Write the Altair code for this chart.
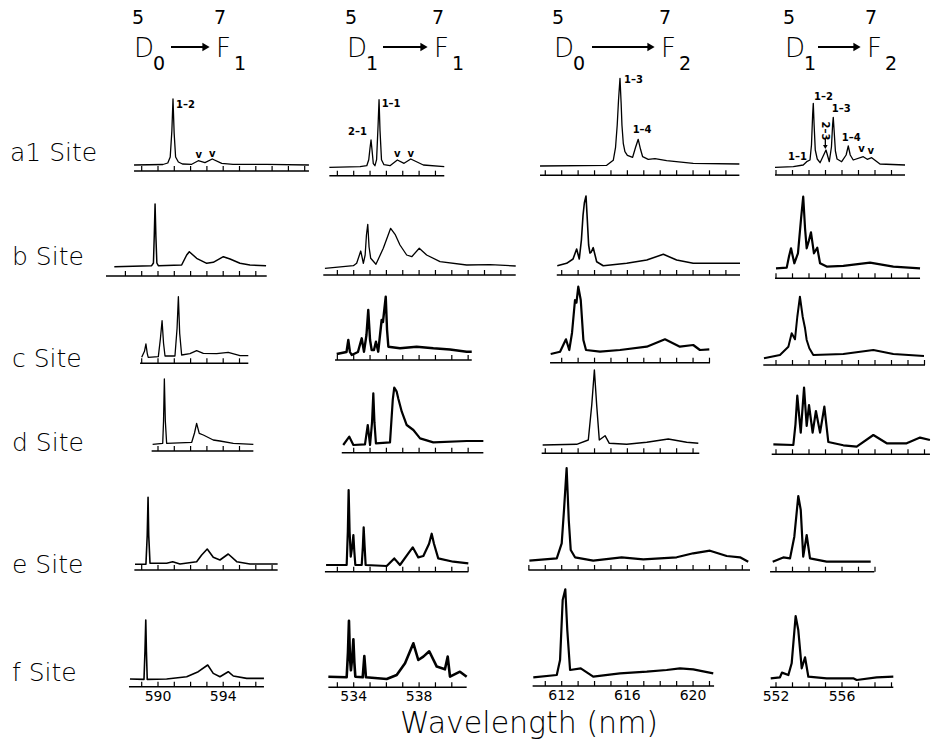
import altair as alt
import pandas as pd

# ---------------- data: wavelengths (nm) and intensities (a.u.) ----------------
ROW_LABELS = ["a1  Site", "b  Site", "c  Site", "d  Site", "e  Site", "f  Site"]

# a1 site
A1_1_WL = [588.53, 590.3, 590.6, 590.75, 590.85, 590.92, 590.99, 591.08, 591.25, 591.5, 592.07, 592.47, 592.88, 593.33, 593.91, 594.6, 596.67, 599.26]
A1_1_I = [6, 6.5, 8, 14, 40, 72, 38, 14, 9, 7, 6.7, 10.3, 8.3, 12, 7.7, 6.7, 6.7, 6]
A1_2_WL = [532.51, 534.39, 534.8, 534.92, 535.0, 535.06, 535.12, 535.2, 535.3, 535.4, 535.49, 535.55, 535.61, 535.7, 535.85, 536.22, 536.67, 537.08, 537.49, 538.26, 539.54]
A1_2_I = [8.3, 9, 10, 16, 28, 35.7, 26, 12, 10, 16, 50, 76, 45, 16, 11, 10, 15.7, 12.4, 16.7, 10.7, 9]
A1_3_WL = [610.68, 614.74, 615.14, 615.28, 615.38, 615.46, 615.55, 615.62, 615.67, 615.75, 615.85, 616.0, 616.32, 616.5, 616.66, 616.8, 616.93, 617.27, 617.68, 618.39, 620.01, 622.82]
A1_3_I = [9.3, 10, 15, 28, 50, 75, 97, 72, 50, 32, 23.6, 20, 18, 28, 36, 26, 18.6, 16, 16.7, 14.7, 12, 11.3]
A1_4_WL = [551.94, 553.05, 553.65, 553.86, 554.06, 554.15, 554.22, 554.26, 554.31, 554.38, 554.5, 554.67, 555.03, 555.23, 555.36, 555.43, 555.47, 555.52, 555.6, 555.7, 555.98, 556.25, 556.38, 556.5, 556.68, 557.29, 557.53, 557.8, 558.3, 559.82]
A1_4_I = [7.7, 8.3, 10, 13.3, 15, 30, 60, 71.7, 50, 25, 16, 12.3, 25, 13.3, 28, 50, 57.7, 45, 24, 16, 13.3, 20, 29, 20, 15, 18.3, 15.7, 17.3, 11, 10]

# b site
B_1_WL = [587.32, 589.61, 589.72, 589.77, 589.82, 589.87, 589.93, 590.02, 591.45, 591.76, 591.92, 592.37, 592.99, 593.39, 594.01, 594.42, 595.03, 595.64, 596.63]
B_1_I = [9.3, 10.3, 13, 40, 72, 40, 13, 10.3, 11, 21, 24.3, 17.7, 12.7, 13.7, 19.3, 17, 12.7, 11, 10.3]
B_2_WL = [532.24, 533.98, 534.18, 534.35, 534.43, 534.51, 534.59, 534.7, 534.78, 534.86, 534.94, 535.04, 535.36, 535.81, 536.26, 536.53, 536.83, 537.24, 537.55, 538.01, 538.46, 539.28, 540.91, 542.34, 543.91]
B_2_I = [6.7, 9.3, 11.7, 20, 24, 18, 11.7, 20, 40, 50.7, 28, 16.7, 10.7, 26.7, 46.7, 40.7, 30, 20, 18.3, 26.7, 20, 13.3, 10, 10.3, 9]
B_3_WL = [611.73, 612.3, 612.69, 612.91, 613.07, 613.2, 613.3, 613.38, 613.48, 613.56, 613.64, 613.72, 613.8, 613.92, 614.13, 614.53, 615.96, 617.18, 618.19, 619.0, 620.01, 622.86]
B_3_I = [9.3, 11.7, 16, 26, 16, 35, 60, 72, 79, 55, 30, 22, 23, 27.3, 13.3, 9.3, 11.7, 15, 20.7, 15, 11.7, 11.7]
B_4_WL = [552.0, 552.65, 552.79, 552.91, 553.11, 553.33, 553.52, 553.65, 553.76, 553.86, 554.0, 554.12, 554.3, 554.5, 554.67, 555.07, 556.08, 557.7, 559.11, 560.73]
B_4_I = [10, 10.7, 22, 30, 15, 25, 60, 81.6, 50, 30, 38, 46, 25, 30.6, 15, 11.7, 12.4, 15.7, 11.7, 10]

# c site
C_1_WL = [589.0, 589.17, 589.26, 589.34, 589.4, 590.02, 590.15, 590.25, 590.34, 590.43, 591.04, 591.17, 591.25, 591.33, 591.45, 591.96, 592.37, 592.78, 593.6, 594.31, 595.03, 595.54]
C_1_I = [6, 12, 19.3, 10, 6, 6.7, 25, 42.6, 20, 7.3, 7.3, 35, 66.6, 30, 8.3, 9.7, 12.6, 10, 9.7, 11, 7.7, 7.7]
C_2_WL = [532.96, 533.56, 533.67, 533.77, 533.88, 534.26, 534.49, 534.63, 534.78, 534.89, 535.0, 535.1, 535.24, 535.36, 535.5, 535.61, 535.71, 535.79, 535.96, 536.04, 536.12, 536.83, 537.85, 538.87, 539.89, 540.91, 541.22]
C_2_I = [6, 8, 20, 8, 5, 8, 21.7, 8.3, 25, 50, 20, 10, 10, 18.3, 8.3, 25, 40, 38, 63.3, 30, 13.3, 11.7, 13.3, 11.7, 10.5, 8.3, 8.3]
C_3_WL = [611.33, 611.9, 612.26, 612.46, 612.63, 612.81, 612.9, 613.01, 613.16, 613.32, 613.48, 614.33, 615.55, 617.18, 618.29, 619.2, 620.01, 620.42, 620.99]
C_3_I = [8.7, 11, 23.4, 12.7, 30, 62.7, 60, 76, 62.7, 22.7, 12.7, 11, 12.7, 16, 23.4, 16, 17.7, 12.7, 13.3]
C_4_WL = [551.27, 552.24, 552.75, 552.95, 553.15, 553.29, 553.45, 553.62, 553.76, 553.86, 554.02, 554.26, 556.08, 557.9, 559.11, 560.97]
C_4_I = [6.7, 10, 18.3, 31.7, 25.7, 48, 68.3, 48, 36.7, 25, 16.7, 10, 11, 15, 11, 9]

# d site
D_1_WL = [589.67, 590.29, 590.34, 590.39, 590.45, 590.53, 592.07, 592.24, 592.37, 592.53, 592.78, 593.39, 593.8, 594.62, 595.85]
D_1_I = [6.7, 7.7, 30, 72, 30, 7.7, 8.7, 18, 27.7, 17.7, 16, 11, 10, 7.7, 6.7]
D_2_WL = [533.36, 533.73, 533.98, 534.69, 534.86, 535.0, 535.12, 535.2, 535.27, 535.36, 536.22, 536.39, 536.48, 536.63, 536.73, 536.94, 537.24, 537.65, 538.06, 538.87, 540.91, 541.93]
D_2_I = [7.7, 16, 7.7, 8.3, 27.7, 7.7, 30, 59.4, 30, 9.3, 10.3, 53, 65, 61, 54, 41, 27.7, 22.7, 14.3, 10.3, 11.7, 11.7]
D_3_WL = [610.84, 612.91, 613.62, 613.83, 613.99, 614.13, 614.29, 614.64, 614.9, 615.96, 617.18, 618.49, 619.61, 620.32]
D_3_I = [8.3, 9, 13.3, 48.3, 83.3, 48.3, 13.3, 17.6, 10, 9, 11, 14.3, 11, 10]
D_4_WL = [551.84, 553.05, 553.18, 553.29, 553.5, 553.7, 553.86, 554.0, 554.22, 554.42, 554.67, 554.93, 555.17, 556.08, 556.89, 557.9, 558.71, 559.92, 560.73, 561.33]
D_4_I = [10, 9.3, 30, 58.6, 21.7, 66.6, 28.3, 49.3, 21.7, 43.3, 21.7, 47.6, 12.3, 9, 7.6, 19.3, 11, 11, 16.7, 14.3]

# e site
E_1_WL = [588.59, 589.26, 589.34, 589.39, 589.43, 589.51, 590.53, 590.9, 591.35, 592.37, 592.68, 593.02, 593.39, 593.8, 594.31, 594.83, 595.64, 597.34]
E_1_I = [5.7, 5.7, 35, 72.7, 35, 6.7, 6.7, 8.3, 6, 8.3, 15, 21, 12.7, 10, 16, 8.3, 6, 6]
E_2_WL = [532.31, 533.57, 533.64, 533.69, 533.75, 533.82, 533.91, 533.98, 534.04, 534.1, 534.49, 534.56, 534.61, 534.67, 534.73, 536.02, 536.48, 536.83, 537.34, 537.61, 537.95, 538.26, 538.61, 538.77, 538.91, 539.17, 540.09, 541.01]
E_2_I = [6.7, 6.7, 40, 81.7, 40, 15, 25, 36.7, 20, 6.7, 6.7, 25, 44.4, 25, 6.7, 5.7, 13.3, 6.7, 18.3, 24.4, 14.3, 15.7, 28, 38, 28, 13.3, 10, 8.3]
E_3_WL = [610.03, 611.7, 612.0, 612.14, 612.3, 612.43, 612.55, 612.81, 613.92, 615.65, 616.97, 619.0, 620.01, 621.03, 622.05, 622.86, 623.36]
E_3_I = [9.3, 11.7, 26.7, 60, 102, 50, 20, 12.7, 9.3, 12.7, 10.7, 12.7, 16.7, 19.3, 14, 12.7, 8.3]
E_4_WL = [551.8, 552.44, 552.85, 553.11, 553.35, 553.5, 553.65, 553.86, 554.06, 555.07, 557.74]
E_4_I = [10, 14.3, 13.3, 35, 75.7, 61.7, 15, 36.7, 13.3, 10, 10]

# f site
F_1_WL = [588.28, 589.14, 589.2, 589.25, 589.29, 589.34, 590.53, 591.76, 592.47, 593.05, 593.39, 593.8, 594.31, 594.62, 595.44, 596.5]
F_1_I = [7.7, 7.3, 35, 66.7, 35, 7.3, 7.7, 10, 15, 21.7, 13.3, 10, 15, 10.7, 8.3, 8.3]
F_2_WL = [532.45, 533.57, 533.65, 533.71, 533.77, 533.83, 533.91, 533.98, 534.04, 534.1, 534.55, 534.65, 534.75, 536.02, 536.63, 537.14, 537.65, 537.95, 538.26, 538.62, 539.08, 539.58, 539.75, 539.89, 540.5, 540.91]
F_2_I = [10.6, 10, 35, 66.6, 30, 17, 30, 48, 25, 10.6, 10, 31.3, 10, 8.3, 12.3, 24, 44, 27.3, 30.7, 36, 20.7, 18, 30.7, 10.6, 15.6, 10.6]
F_3_WL = [610.27, 611.7, 611.9, 612.06, 612.22, 612.34, 612.51, 613.16, 613.92, 615.55, 617.18, 618.39, 619.2, 620.01, 621.23]
F_3_I = [8.7, 11, 26, 86, 96.7, 56, 16, 17.7, 9.3, 12.7, 14.3, 16, 17.7, 16.7, 12.7]
F_4_WL = [551.68, 552.24, 552.36, 552.75, 552.95, 553.19, 553.35, 553.56, 553.76, 553.96, 555.07, 556.68, 556.89, 558.1, 559.11]
F_4_I = [9, 10, 14.7, 12.3, 24, 71.3, 57.3, 19, 30, 10.6, 9, 9, 7.3, 10, 10.6]

# wavelength axis of each panel: [start, end] and tick range (first, last), rows a1..f, cols 1..4
AXIS_EXTENT = [
    [[588.53, 599.26], [532.51, 539.54], [610.68, 622.82], [551.94, 559.82]],
    [[586.81, 596.67], [532.14, 543.91], [611.70, 622.86], [551.94, 560.73]],
    [[588.90, 595.54], [532.86, 541.22], [611.29, 621.03], [551.23, 561.03]],
    [[589.61, 595.85], [533.27, 541.93], [610.78, 620.38], [551.74, 561.33]],
    [[588.55, 597.34], [532.24, 541.01], [609.97, 623.47], [551.64, 557.96]],
    [[588.22, 596.50], [532.45, 540.91], [610.23, 621.28], [551.64, 559.11]],
]
TICK_RANGE = [
    [[589, 599], [533, 539], [611, 622], [552, 559]],
    [[588, 596], [533, 543], [612, 622], [552, 560]],
    [[589, 595], [533, 541], [612, 621], [552, 561]],
    [[590, 595], [534, 541], [611, 620], [552, 561]],
    [[589, 597], [533, 541], [610, 623], [552, 558]],
    [[589, 596], [533, 540], [611, 621], [552, 559]],
]
TICK_LABELS = [[590, 594], [534, 538], [612, 616, 620], [552, 556]]

# a1-site assignments
A1_1_LBL = ["1\u20132"]; A1_1_LBL_WL = [591.1]; A1_1_LBL_I = [66]
A1_2_LBL = ["2\u20131", "1\u20131"]; A1_2_LBL_WL = [534.81, 535.71]; A1_2_LBL_I = [44, 72]
A1_3_LBL = ["1\u20133", "1\u20134"]; A1_3_LBL_WL = [615.79, 616.32]; A1_3_LBL_I = [95, 45]
A1_4_LBL = ["1\u20131", "1\u20132", "1\u20133", "1\u20134"]; A1_4_LBL_WL = [552.73, 554.3, 555.38, 555.98]; A1_4_LBL_I = [18, 78, 66, 37]
V_MARKS_WL = [[592.5, 593.33], [536.67, 537.49], [], [557.19, 557.74]]
V_MARKS_I = [[16, 17], [21.4, 21.4], [], [26, 24]]

SPECTRA = [
    [(A1_1_WL, A1_1_I), (A1_2_WL, A1_2_I), (A1_3_WL, A1_3_I), (A1_4_WL, A1_4_I)],
    [(B_1_WL, B_1_I), (B_2_WL, B_2_I), (B_3_WL, B_3_I), (B_4_WL, B_4_I)],
    [(C_1_WL, C_1_I), (C_2_WL, C_2_I), (C_3_WL, C_3_I), (C_4_WL, C_4_I)],
    [(D_1_WL, D_1_I), (D_2_WL, D_2_I), (D_3_WL, D_3_I), (D_4_WL, D_4_I)],
    [(E_1_WL, E_1_I), (E_2_WL, E_2_I), (E_3_WL, E_3_I), (E_4_WL, E_4_I)],
    [(F_1_WL, F_1_I), (F_2_WL, F_2_I), (F_3_WL, F_3_I), (F_4_WL, F_4_I)],
]

# ---------------- layout / style ----------------
W, H = 932, 743
FONT = "DejaVu Sans"
COL_REF_NM = [589, 534, 612, 552]
COL_REF_PX = [141.7, 353.7, 561.7, 776.0]
COL_PX_PER_NM = [16.3, 16.35, 16.42, 16.5]
BASE_Y = [
    [171, 175.7, 175.3, 175],
    [276, 275, 275, 278.3],
    [363.3, 360, 362.7, 365],
    [451, 452.7, 453.3, 454.3],
    [570, 571.7, 570, 571.7],
    [686.7, 687.3, 686, 687.3],
]
LINE_W = [
    [1.3, 1.3, 1.3, 1.3],
    [1.5, 1.3, 1.6, 2.2],
    [1.3, 2.4, 2.2, 2.0],
    [1.3, 2.2, 1.4, 2.2],
    [1.6, 2.2, 2.2, 2.2],
    [1.6, 2.6, 2.2, 2.2],
]
LABEL_Y = [160.7, 265, 367.3, 451, 573.3, 680.7]
TICK_LEN = 5


def xscale(c):
    s = COL_PX_PER_NM[c]
    n0 = COL_REF_NM[c]
    p0 = COL_REF_PX[c]
    return alt.Scale(domain=[n0 - 10, n0 + 15], range=[p0 - 10 * s, p0 + 15 * s], nice=False, zero=False)


def yscale(base):
    return alt.Scale(domain=[0, 100], range=[base, base - 100], nice=False, zero=False)


def panel(r, c):
    xs = xscale(c)
    ys = yscale(BASE_Y[r][c])
    wl, inten = SPECTRA[r][c]
    X = lambda f: alt.X(f, type="quantitative", scale=xs, axis=None)
    Y = lambda f: alt.Y(f, type="quantitative", scale=ys, axis=None)
    layers = []
    layers.append(
        alt.Chart(pd.DataFrame({"wl": wl, "I": inten}))
        .mark_line(color="black", strokeWidth=LINE_W[r][c], strokeJoin="round", interpolate="linear")
        .encode(x=X("wl"), y=Y("I"), order="wl:Q")
    )
    e0, e1 = AXIS_EXTENT[r][c]
    layers.append(
        alt.Chart(pd.DataFrame({"x0": [e0], "x1": [e1], "y0": [0]}))
        .mark_rule(color="black", strokeWidth=1.4)
        .encode(x=X("x0"), x2="x1:Q", y=Y("y0"))
    )
    t0, t1 = TICK_RANGE[r][c]
    ticks = list(range(t0, t1 + 1))
    layers.append(
        alt.Chart(pd.DataFrame({"t": ticks, "y0": [0] * len(ticks), "y1": [TICK_LEN] * len(ticks)}))
        .mark_rule(color="black", strokeWidth=1.2)
        .encode(x=X("t"), y=Y("y0"), y2="y1:Q")
    )
    if r == 5:
        tl = TICK_LABELS[c]
        layers.append(
            alt.Chart(pd.DataFrame({"t": tl, "y0": [0] * len(tl), "s": [str(v) for v in tl]}))
            .mark_text(font=FONT, fontSize=14, dy=14, baseline="alphabetic", align="center", color="black")
            .encode(x=X("t"), y=Y("y0"), text="s:N")
        )
    if r == 0:
        lbls = [(A1_1_LBL, A1_1_LBL_WL, A1_1_LBL_I), (A1_2_LBL, A1_2_LBL_WL, A1_2_LBL_I),
                (A1_3_LBL, A1_3_LBL_WL, A1_3_LBL_I), (A1_4_LBL, A1_4_LBL_WL, A1_4_LBL_I)][c]
        aligns = ["left"] * len(lbls[0])
        if c == 1:
            aligns = ["right", "left"]
        df = pd.DataFrame({"s": lbls[0], "wl": lbls[1], "I": lbls[2], "al": aligns})
        for al in sorted(set(aligns)):
            layers.append(
                alt.Chart(df[df.al == al])
                .mark_text(font=FONT, fontSize=10, fontWeight="bold", align=al, baseline="middle", color="black")
                .encode(x=X("wl"), y=Y("I"), text="s:N")
            )
        if V_MARKS_WL[c]:
            layers.append(
                alt.Chart(pd.DataFrame({"wl": V_MARKS_WL[c], "I": V_MARKS_I[c], "s": ["v"] * len(V_MARKS_WL[c])}))
                .mark_text(font=FONT, fontSize=10, fontWeight="bold", align="center", baseline="middle", color="black")
                .encode(x=X("wl"), y=Y("I"), text="s:N")
            )
        if c == 3:
            layers.append(
                alt.Chart(pd.DataFrame({"wl": [554.95], "I": [44], "s": ["2\u20133"]}))
                .mark_text(font=FONT, fontSize=10, fontWeight="bold", angle=90, align="center", baseline="middle", color="black")
                .encode(x=X("wl"), y=Y("I"), text="s:N")
            )
            layers.append(
                alt.Chart(pd.DataFrame({"wl": [554.99], "I": [36], "I2": [28]}))
                .mark_rule(color="black", strokeWidth=1.3)
                .encode(x=X("wl"), y=Y("I"), y2="I2:Q")
            )
            layers.append(
                alt.Chart(pd.DataFrame({"wl": [554.99], "I": [28]}))
                .mark_point(shape="triangle-down", filled=True, size=22, color="black", opacity=1)
                .encode(x=X("wl"), y=Y("I"))
            )
    return alt.layer(*layers)


def text_at(s, x, y, size, align="left", baseline="alphabetic", weight=200):
    return (
        alt.Chart(pd.DataFrame({"s": [s]}))
        .mark_text(font=FONT, fontSize=size, align=align, baseline=baseline, fontWeight=weight, color="black")
        .encode(text="s:N", x=alt.value(x), y=alt.value(y))
    )


decor = []
# row labels
for i, lab in enumerate(ROW_LABELS):
    decor.append(text_at(lab, 12 if i else 10, LABEL_Y[i], 25))
# x title
decor.append(text_at("Wavelength (nm)", 529, 733, 30, align="center"))

# column headers
HEADERS = [("5", "D", "0", "7", "F", "1"), ("5", "D", "1", "7", "F", "1"),
           ("5", "D", "0", "7", "F", "2"), ("5", "D", "1", "7", "F", "2")]
HDR_X = [132, 345, 552, 783]
HDR_ARROW = [(171, 210), (383, 428), (592, 655), (818, 861)]
for k, (s1, l1, b1, s2, l2, b2) in enumerate(HEADERS):
    x0 = HDR_X[k]
    a0, a1 = HDR_ARROW[k]
    decor.append(text_at(s1, x0, 24, 19, weight=400))
    decor.append(text_at(l1, x0 + 2, 57, 26))
    decor.append(text_at(b1, x0 + 21, 70, 19, weight=400))
    decor.append(text_at(s2, a1 + 4, 24, 19, weight=400))
    decor.append(text_at(l2, a1 + 6, 57, 26))
    decor.append(text_at(b2, a1 + 24, 70, 19, weight=400))
    decor.append(
        alt.Chart(pd.DataFrame({"k": [k]}))
        .mark_rule(color="black", strokeWidth=2.2)
        .encode(x=alt.value(a0), x2=alt.value(a1 - 6), y=alt.value(47))
    )
    decor.append(
        alt.Chart(pd.DataFrame({"k": [k]}))
        .mark_point(shape="triangle-right", filled=True, size=70, color="black", opacity=1)
        .encode(x=alt.value(a1 - 4), y=alt.value(47))
    )

panels = [panel(r, c) for r in range(6) for c in range(4)]

chart = (
    alt.layer(*panels, *decor)
    .resolve_scale(x="independent", y="independent")
    .properties(width=W, height=H, autosize=alt.AutoSizeParams(type="none"), padding=0, background="white")
    .configure_view(stroke=None)
)

chart.save("out.html", embed_options={"renderer": "svg", "actions": False})
